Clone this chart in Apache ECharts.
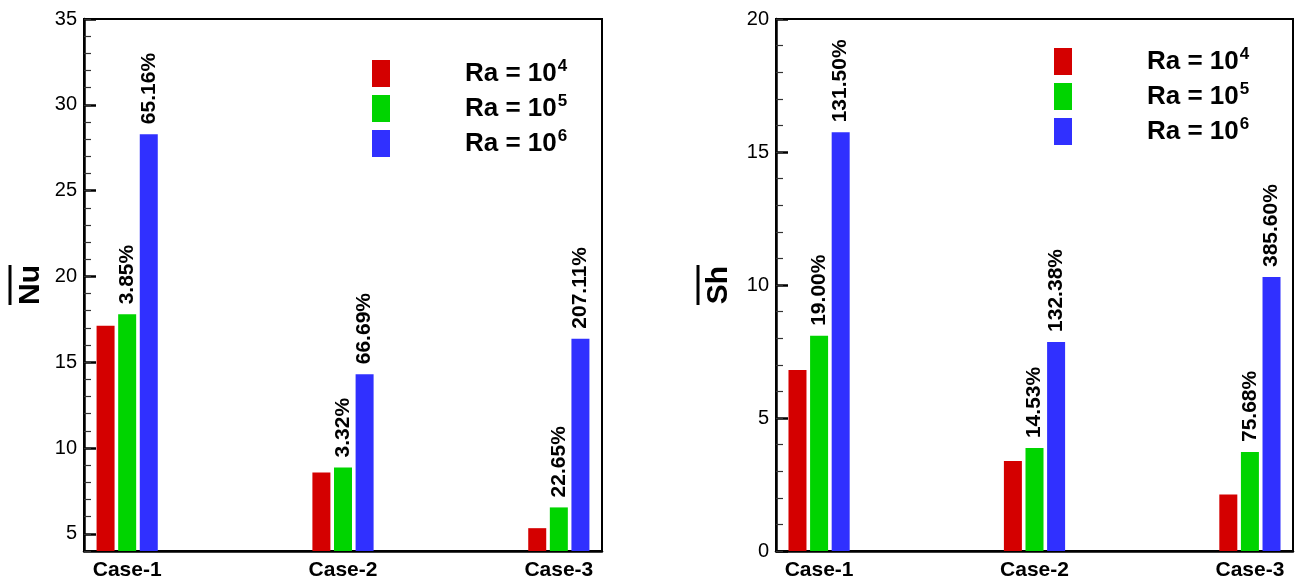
<!DOCTYPE html>
<html>
<head>
<meta charset="utf-8">
<script src="https://cdn.jsdelivr.net/npm/echarts@6/dist/echarts.min.js"></script>
<style>
  html, body { margin: 0; padding: 0; background: #fff; }
  #chart { width: 1306px; height: 585px; }
</style>
</head>
<body>
<div id="chart"></div>
<script>
// Cases along the x axis (placed at positions 1, 2, 3)
const categories = ['Case-1', 'Case-2', 'Case-3'];
const casePositions = [1, 2, 3];
const raExponents = ['4', '5', '6'];

// Average Nusselt number
const nuRa4 = [17.13, 8.58, 5.33];
const nuRa5 = [17.79, 8.87, 6.54];
const nuRa6 = [28.29, 14.30, 16.37];
const nuPctRa5 = ['3.85%', '3.32%', '22.65%'];
const nuPctRa6 = ['65.16%', '66.69%', '207.11%'];

// Average Sherwood number
const shRa4 = [6.80, 3.38, 2.12];
const shRa5 = [8.09, 3.87, 3.72];
const shRa6 = [15.74, 7.86, 10.30];
const shPctRa5 = ['19.00%', '14.53%', '75.68%'];
const shPctRa6 = ['131.50%', '132.38%', '385.60%'];

// Axis ticks
const nuMajorTicks = [5, 10, 15, 20, 25, 30, 35];
const shMajorTicks = [0, 5, 10, 15, 20];

const FONT = "'Liberation Sans', Arial, Helvetica, sans-serif";
const COLORS = ['#d40000', '#00d400', '#3030ff'];
const seriesNames = raExponents.map(e => 'Ra = 10^' + e);

function pairs(values) {
  return values.map((v, i) => [casePositions[i], v]);
}

function xAxisFor(gridIndex) {
  return {
    type: 'value', gridIndex, min: 0.8, max: 3.2,
    axisLine: { show: true, lineStyle: { color: '#000', width: 2.5 } },
    axisTick: { show: false },
    splitLine: { show: false },
    axisLabel: {
      customValues: casePositions,
      formatter: v => categories[Math.round(v) - 1] || '',
      fontFamily: FONT, fontSize: 21, fontWeight: 'bold', color: '#000', margin: 9
    }
  };
}

function yAxesFor(gridIndex, min, max, majors, title, nameGap) {
  return [
    {
      type: 'value', gridIndex, min, max, position: 'left',
      name: '{o|}\n{t|' + title + '}',
      nameLocation: 'middle', nameRotate: 90, nameGap,
      nameTextStyle: {
        rich: {
          o: { width: 40, height: 3, backgroundColor: '#000', lineHeight: 10 },
          t: { fontFamily: FONT, fontSize: 30, fontWeight: 'bold', color: '#000', lineHeight: 32 }
        }
      },
      axisLine: { show: true, lineStyle: { color: '#000', width: 2.5 } },
      axisTick: { show: true, inside: true, length: 12, customValues: majors, lineStyle: { color: '#000', width: 2.5 } },
      axisLabel: { customValues: majors, fontFamily: FONT, fontSize: 20, color: '#000', margin: 7 },
      splitLine: { show: false }
    },
    {
      // minor ticks every unit
      type: 'value', gridIndex, min, max, interval: 1, position: 'left', offset: 0,
      axisLine: { show: false },
      axisTick: { show: true, inside: true, length: 7, lineStyle: { color: '#333', width: 1.2 } },
      axisLabel: { show: false },
      splitLine: { show: false }
    }
  ];
}

function barSeries(gridIdx, values, colorIdx, labels) {
  const s = {
    name: seriesNames[colorIdx],
    type: 'bar',
    xAxisIndex: gridIdx,
    yAxisIndex: gridIdx * 2,
    barWidth: 18,
    barGap: '20%',
    itemStyle: { color: COLORS[colorIdx] },
    data: pairs(values)
  };
  if (labels) {
    s.label = {
      show: true, position: 'top', rotate: 90, align: 'left', verticalAlign: 'middle',
      distance: 10, fontFamily: FONT, fontSize: 21, fontWeight: 'bold', color: '#000',
      formatter: p => labels[p.dataIndex]
    };
  }
  return s;
}

function legendAt(left, top) {
  return {
    orient: 'vertical', left, top, padding: 0,
    itemWidth: 18, itemHeight: 27, itemGap: 6,
    icon: 'rect', selectedMode: false,
    data: seriesNames,
    formatter: name => {
      const parts = name.split('^');
      return '{sp|}{b|' + parts[0] + '}{s|' + parts[1] + '}';
    },
    textStyle: {
      rich: {
        sp: { width: 70 },
        b: { fontFamily: FONT, fontSize: 26, fontWeight: 'bold', color: '#000' },
        s: { fontFamily: FONT, fontSize: 17, fontWeight: 'bold', color: '#000', verticalAlign: 'top', padding: [0, 0, 14, 1] }
      }
    }
  };
}

const chart = echarts.init(document.getElementById('chart'), null, { renderer: 'canvas' });

chart.setOption({
  animation: false,
  backgroundColor: '#fff',
  grid: [
    { left: 84, top: 19, right: 704, bottom: 34, show: true, borderColor: '#000', borderWidth: 2, backgroundColor: 'transparent' },
    { left: 776, top: 19, right: 13, bottom: 34, show: true, borderColor: '#000', borderWidth: 2, backgroundColor: 'transparent' }
  ],
  legend: [legendAt(372, 58), legendAt(1054, 46)],
  xAxis: [xAxisFor(0), xAxisFor(1)],
  yAxis: [
    ...yAxesFor(0, 4, 35, nuMajorTicks, 'Nu', 37),
    ...yAxesFor(1, 0, 20, shMajorTicks, 'Sh', 41)
  ],
  series: [
    barSeries(0, nuRa4, 0, null),
    barSeries(0, nuRa5, 1, nuPctRa5),
    barSeries(0, nuRa6, 2, nuPctRa6),
    barSeries(1, shRa4, 0, null),
    barSeries(1, shRa5, 1, shPctRa5),
    barSeries(1, shRa6, 2, shPctRa6)
  ]
});
</script>
</body>
</html>
